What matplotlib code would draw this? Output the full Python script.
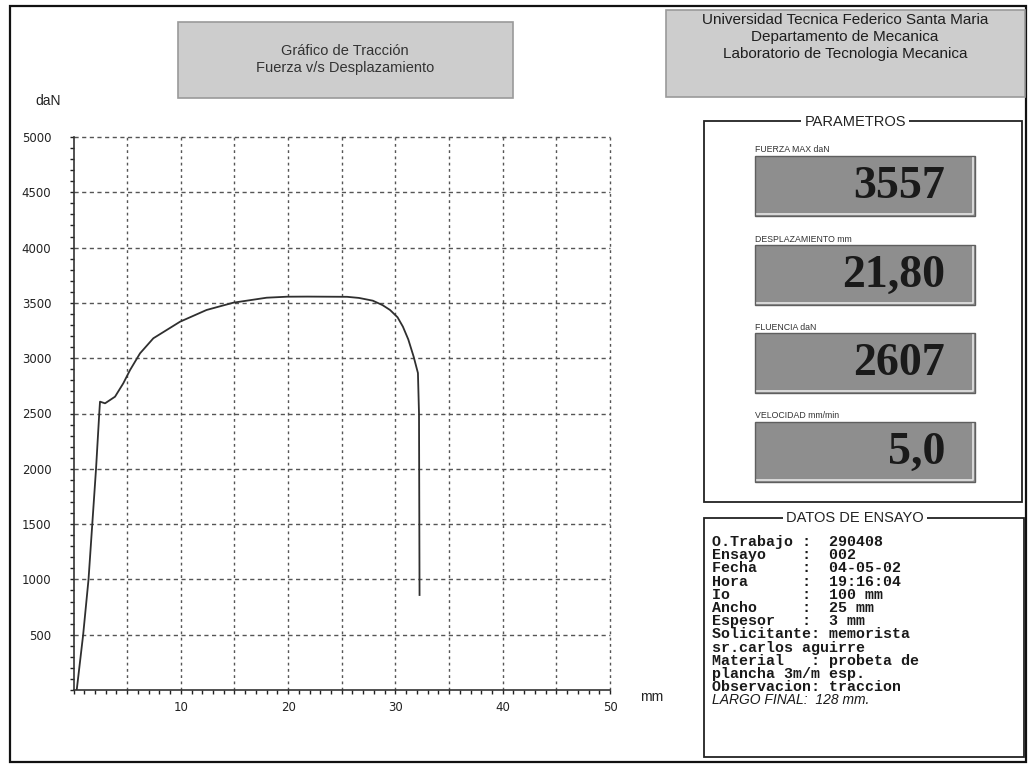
import matplotlib
matplotlib.use('Agg')
import matplotlib.pyplot as plt
from matplotlib.patches import Rectangle
from matplotlib.ticker import MultipleLocator
import numpy as np

# curva fuerza-desplazamiento del ensayo de traccion
desplazamiento = [0.3, 0.9, 1.4, 1.75, 2.1, 2.4, 2.47, 2.94, 3.87, 4.64, 5.27, 6.2,
                  7.44, 9.93, 12.4, 14.9, 18.0, 19.9, 21.8, 25.5, 26.6, 27.9, 28.8,
                  29.5, 30.2, 30.7, 31.2, 31.7, 32.1, 32.2, 32.25]
fuerza = [0, 500, 1000, 1500, 2000, 2500, 2607, 2592, 2652, 2773, 2893, 3044,
          3180, 3330, 3436, 3502, 3547, 3556, 3557, 3555, 3545, 3520, 3480,
          3436, 3370, 3285, 3170, 3014, 2866, 2500, 859]

x_labels = ['10', '20', '30', '40', '50']
y_labels = ['500', '1000', '1500', '2000', '2500', '3000', '3500', '4000', '4500', '5000']

param_names = ['FUERZA MAX daN', 'DESPLAZAMIENTO mm', 'FLUENCIA daN', 'VELOCIDAD mm/min']
param_values = ['3557', '21,80', '2607', '5,0']

datos = [
    'O.Trabajo :  290408',
    'Ensayo    :  002',
    'Fecha     :  04-05-02',
    'Hora      :  19:16:04',
    'Io        :  100 mm',
    'Ancho     :  25 mm',
    'Espesor   :  3 mm',
    'Solicitante: memorista',
    'sr.carlos aguirre',
    'Material   : probeta de',
    'plancha 3m/m esp.',
    'Observacion: traccion',
]
largo_final = 'LARGO FINAL:  128 mm.'

W, H = 1033, 768
fig = plt.figure(figsize=(W / 100, H / 100), dpi=100)

# capa en pixeles para marcos, titulos y paneles
bg = fig.add_axes([0, 0, 1, 1], zorder=0)
bg.set_xlim(0, W)
bg.set_ylim(H, 0)
bg.axis('off')

sans = 'Liberation Sans'
bg.add_patch(Rectangle((10, 6), 1016, 756, fill=False, ec='#111111', lw=1.6))

# encabezados grises
bg.add_patch(Rectangle((178, 22), 335, 76, fc='#cdcdcd', ec='#9a9a9a', lw=1.2))
bg.text(345, 51, 'Gráfico de Tracción', ha='center', va='center', fontsize=10.5,
        family=sans, color='#333333')
bg.text(345, 68, 'Fuerza v/s Desplazamiento', ha='center', va='center', fontsize=10.5,
        family=sans, color='#333333')

bg.add_patch(Rectangle((666, 10), 359, 87, fc='#cdcdcd', ec='#9a9a9a', lw=1.2))
for yy, s in zip([20, 37, 54], ['Universidad Tecnica Federico Santa Maria',
                                'Departamento de Mecanica',
                                'Laboratorio de Tecnologia Mecanica']):
    bg.text(845, yy, s, ha='center', va='center', fontsize=11, family=sans, color='#1e1e1e')

# panel de parametros
bg.add_patch(Rectangle((704, 121), 318, 381, fill=False, ec='#222222', lw=1.3))
bg.text(855, 122, 'PARAMETROS', ha='center', va='center', fontsize=10.5, family=sans,
        color='#222222', bbox=dict(fc='white', ec='none', pad=2))
box_tops = [156, 245, 333, 422]
for top, name, val in zip(box_tops, param_names, param_values):
    bg.text(755, top - 6, name, ha='left', va='center', fontsize=6.3, family=sans,
            color='#333333')
    bg.add_patch(Rectangle((755, top), 220, 60, fc='#8e8e8e', ec='#5f5f5f', lw=1.0))
    bg.plot([757, 973, 973], [top + 58, top + 58, top + 2], color='#e6e6e6', lw=1.2)
    bg.text(945, top + 31, val, ha='right', va='center', fontsize=33, family='Liberation Serif',
            fontweight='bold', color='#1a1a1a')

# panel de datos del ensayo
bg.add_patch(Rectangle((704, 518), 320, 239, fill=False, ec='#222222', lw=1.3))
bg.text(855, 518, 'DATOS DE ENSAYO', ha='center', va='center', fontsize=10.5, family=sans,
        color='#222222', bbox=dict(fc='white', ec='none', pad=2))
for i, s in enumerate(datos):
    bg.text(712, 542 + i * 13.2, s, ha='left', va='center', fontsize=10.8,
            family='Liberation Mono', fontweight='bold', color='#1a1a1a')
bg.text(712, 542 + len(datos) * 13.2, largo_final, ha='left', va='center', fontsize=10,
        family=sans, style='italic', color='#1a1a1a')

# grafico de traccion
x0, x1, y0, y1 = 73.5, 610, 137, 690
ax = fig.add_axes([x0 / W, 1 - y1 / H, (x1 - x0) / W, (y1 - y0) / H], zorder=2)
ax.set_facecolor('none')
ax.plot(desplazamiento, fuerza, color='#2f2f2f', lw=1.3, zorder=3)
ax.set_xlim(0, 50)
ax.set_ylim(0, 5000)

ax.set_xticks(np.arange(10, 51, 10))
ax.set_xticklabels(x_labels)
ax.set_yticks(np.arange(500, 5001, 500))
ax.set_yticklabels(y_labels)
ax.xaxis.set_minor_locator(MultipleLocator(1))
ax.yaxis.set_minor_locator(MultipleLocator(100))
ax.tick_params(axis='x', which='both', direction='out', length=3, width=1, pad=5,
               labelsize=8.5, colors='#222222')
ax.tick_params(axis='y', which='both', direction='out', length=3, width=1, pad=13,
               labelsize=8.5, colors='#222222')

for v in np.arange(5, 51, 5):
    ax.axvline(v, color='#555555', lw=1.0, ls=(0, (2, 2.5)), zorder=1, clip_on=False)
for v in np.arange(500, 5001, 500):
    ax.axhline(v, color='#555555', lw=1.0, ls=(0, (3, 2.5)), zorder=1, clip_on=False)

for side in ['top', 'right']:
    ax.spines[side].set_visible(False)
for side in ['left', 'bottom']:
    ax.spines[side].set_color('#333333')
    ax.spines[side].set_linewidth(1.2)

bg.text(35, 101, 'daN', ha='left', va='center', fontsize=10, family=sans, color='#222222')
bg.text(640, 697, 'mm', ha='left', va='center', fontsize=10, family=sans, color='#222222')

fig.savefig('out.png', dpi=100)
